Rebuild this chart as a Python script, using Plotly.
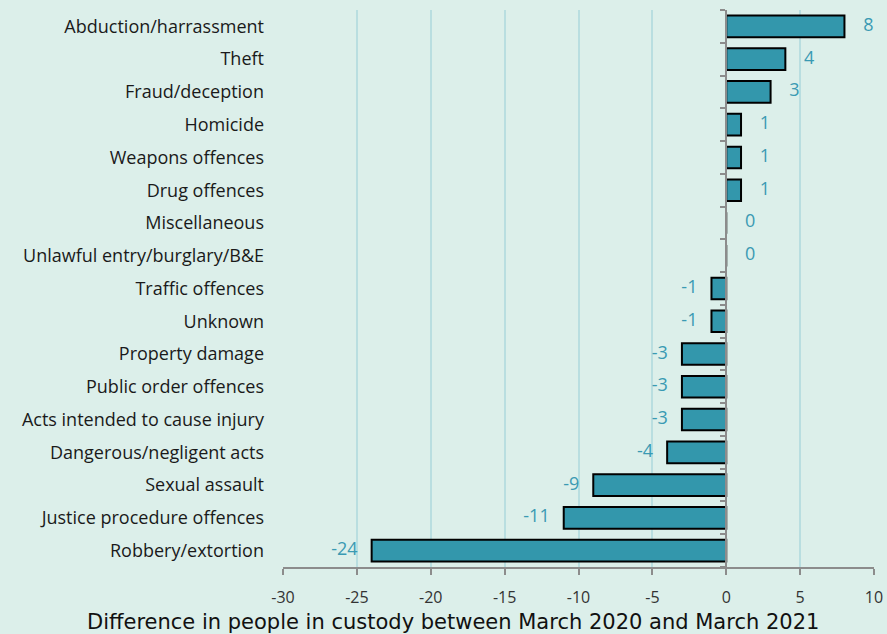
import plotly.graph_objects as go

categories = [
    "Abduction/harrassment", "Theft", "Fraud/deception", "Homicide",
    "Weapons offences", "Drug offences", "Miscellaneous",
    "Unlawful entry/burglary/B&E", "Traffic offences", "Unknown",
    "Property damage", "Public order offences", "Acts intended to cause injury",
    "Dangerous/negligent acts", "Sexual assault", "Justice procedure offences",
    "Robbery/extortion",
]
values = [8, 4, 3, 1, 1, 1, 0, 0, -1, -1, -3, -3, -3, -4, -9, -11, -24]
x_ticks = [-30, -25, -20, -15, -10, -5, 0, 5, 10]
x_tick_labels = ["-30", "-25", "-20", "-15", "-10", "-5", "0", "5", "10"]

BG = "#dcefea"
BAR = "#3397ac"
LBL = "#3a9ab3"
GRID = "#b9dee0"
AXIS = "#8c8c8c"

x_min, x_max = -30, 10
zero_pos = (0 - x_min) / (x_max - x_min)

fig = go.Figure()
fig.add_trace(go.Bar(
    x=values, y=categories, orientation="h",
    marker=dict(color=BAR, line=dict(color="#000000", width=2)),
    width=0.66, showlegend=False, hoverinfo="x+y",
))
pos_idx = [i for i, v in enumerate(values) if v >= 0]
neg_idx = [i for i, v in enumerate(values) if v < 0]
fig.add_trace(go.Scatter(
    x=[values[i] for i in pos_idx], y=[categories[i] for i in pos_idx],
    text=["    " + str(values[i]) for i in pos_idx],
    mode="text", textposition="middle right",
    textfont=dict(color=LBL, size=18, family="Open Sans"),
    showlegend=False, hoverinfo="skip",
))
fig.add_trace(go.Scatter(
    x=[values[i] for i in neg_idx], y=[categories[i] for i in neg_idx],
    text=[str(values[i]) + "   " for i in neg_idx],
    mode="text", textposition="middle left",
    textfont=dict(color=LBL, size=18, family="Open Sans"),
    showlegend=False, hoverinfo="skip",
))
# invisible trace for the zero-line category ticks
fig.add_trace(go.Scatter(
    x=[None] * len(categories), y=categories, yaxis="y2", mode="markers",
    showlegend=False, hoverinfo="skip",
))

fig.update_layout(
    width=887, height=634,
    paper_bgcolor=BG, plot_bgcolor=BG,
    margin=dict(l=283, r=13, t=10, b=67, autoexpand=False),
    font=dict(family="Open Sans", color="#1a1a1a"),
    xaxis=dict(
        range=[x_min, x_max], tickvals=x_ticks, ticktext=x_tick_labels,
        automargin=False,
        showgrid=True, gridcolor=GRID, gridwidth=1.5,
        zeroline=False,
        showline=True, linecolor=AXIS, linewidth=2,
        ticks="outside", ticklen=6, tickcolor=AXIS, tickwidth=2,
        ticklabelstandoff=9,
        tickfont=dict(size=16, color="#333333", family="Open Sans"),
    ),
    yaxis=dict(
        categoryorder="array", categoryarray=categories[::-1],
        autorange=False, range=[-0.5, len(categories) - 0.5], automargin=False,
        showgrid=False, zeroline=False, showline=False, ticks="",
        ticklabelstandoff=18,
        tickfont=dict(size=18, color="#1a1a1a", family="Open Sans"),
    ),
    yaxis2=dict(
        overlaying="y", anchor="free", position=zero_pos, side="left",
        categoryorder="array", categoryarray=categories[::-1],
        autorange=False, range=[-0.5, len(categories) - 0.5], automargin=False,
        showticklabels=False, showgrid=False, zeroline=False,
        showline=True, linecolor=AXIS, linewidth=2,
        ticks="outside", tickson="boundaries", ticklen=5, tickcolor=AXIS, tickwidth=2,
    ),
    annotations=[dict(
        text="Difference in people in custody between March 2020 and March 2021",
        xref="paper", yref="paper", x=(453 - 283) / 591, y=0, yshift=-55,
        xanchor="center", yanchor="middle", showarrow=False,
        font=dict(size=21, color="#111111", family="DejaVu Sans"),
    )],
)

fig.write_html("out.html", config={"displayModeBar": False},
               post_script="document.body.style.margin='0px';")
